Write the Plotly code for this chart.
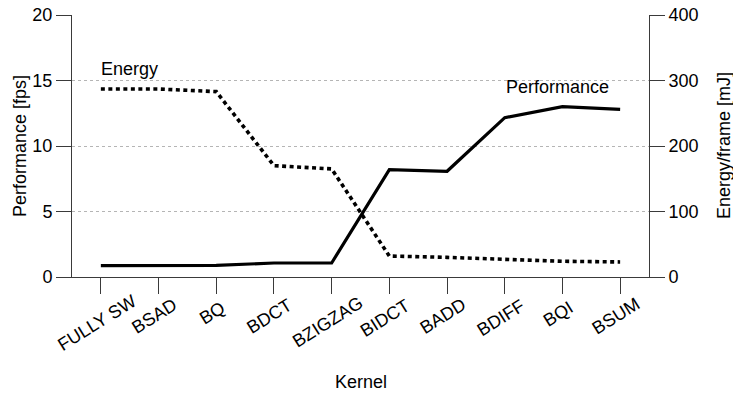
import plotly.graph_objects as go

kernels = ["FULLY SW", "BSAD", "BQ", "BDCT", "BZIGZAG", "BIDCT", "BADD", "BDIFF", "BQI", "BSUM"]
performance_fps = [0.87, 0.88, 0.88, 1.07, 1.07, 8.2, 8.07, 12.16, 13.0, 12.8]
energy_mj = [287, 287, 283, 170, 165, 32, 30, 27.5, 24, 23]

FONT = "Liberation Sans, Arial, sans-serif"
AXIS_COLOR = "#3a3a3a"

fig = go.Figure()
fig.add_trace(go.Scatter(
    x=list(range(len(kernels))), y=performance_fps, mode="lines",
    line=dict(color="black", width=3.2), name="Performance", yaxis="y",
))
fig.add_trace(go.Scatter(
    x=list(range(len(kernels))), y=energy_mj, mode="lines",
    line=dict(color="black", width=3.6, dash="4px,3.5px"), name="Energy", yaxis="y2",
))

annotations = []
# rotated kernel names under each tick
for i, name in enumerate(kernels):
    annotations.append(dict(
        x=i, y=0, xref="x", yref="paper", text=name, showarrow=False,
        textangle=-32, xanchor="center", yanchor="middle",
        xshift=-4, yshift=-(32 + 1.8 * len(name)),
        font=dict(size=18, family=FONT, color="black"),
    ))
# series labels
annotations.append(dict(x=0, y=15.9, xref="x", yref="y", text="Energy", showarrow=False,
                        xanchor="left", yanchor="middle", xshift=-2,
                        font=dict(size=18, family=FONT, color="black")))
annotations.append(dict(x=7.92, y=14.5, xref="x", yref="y", text="Performance", showarrow=False,
                        xanchor="center", yanchor="middle",
                        font=dict(size=18, family=FONT, color="black")))
# axis titles
annotations.append(dict(x=0, y=0.5, xref="paper", yref="paper", text="Performance [fps]",
                        showarrow=False, textangle=-90, xanchor="center", yanchor="middle",
                        xshift=-52, font=dict(size=18, family=FONT, color="black")))
annotations.append(dict(x=1, y=0.5, xref="paper", yref="paper", text="Energy/frame [mJ]",
                        showarrow=False, textangle=-90, xanchor="center", yanchor="middle",
                        xshift=75, font=dict(size=18, family=FONT, color="black")))
annotations.append(dict(x=0.5, y=0, xref="paper", yref="paper", text="Kernel",
                        showarrow=False, xanchor="center", yanchor="middle",
                        yshift=-105, font=dict(size=18, family=FONT, color="black")))

fig.update_layout(
    width=733, height=396,
    margin=dict(l=72, r=84, t=15, b=119, autoexpand=False),
    paper_bgcolor="white", plot_bgcolor="white",
    showlegend=False,
    font=dict(family=FONT, size=18, color="black"),
    xaxis=dict(
        range=[-0.5, len(kernels) - 0.5], tickmode="array",
        tickvals=list(range(len(kernels))), showticklabels=False,
        ticks="outside", ticklen=16, tickwidth=1, tickcolor=AXIS_COLOR,
        showline=True, linecolor=AXIS_COLOR, linewidth=1,
        showgrid=False, zeroline=False, fixedrange=True, automargin=False,
    ),
    yaxis=dict(
        range=[0, 20], tickvals=[0, 5, 10, 15, 20],
        ticks="outside", ticklen=15, tickwidth=1, tickcolor=AXIS_COLOR,
        showline=True, linecolor=AXIS_COLOR, linewidth=1,
        showgrid=True, gridcolor="#b5b5b5", griddash="dot", gridwidth=1,
        zeroline=False, automargin=False,
        tickfont=dict(size=18, family=FONT, color="black"),
    ),
    yaxis2=dict(
        range=[0, 400], tickvals=[0, 100, 200, 300, 400],
        overlaying="y", side="right",
        ticks="outside", ticklen=15, tickwidth=1, tickcolor=AXIS_COLOR,
        showline=True, linecolor=AXIS_COLOR, linewidth=1,
        showgrid=False, zeroline=False, automargin=False,
        tickfont=dict(size=18, family=FONT, color="black"),
    ),
    annotations=annotations,
)

fig.write_html("out.html")
